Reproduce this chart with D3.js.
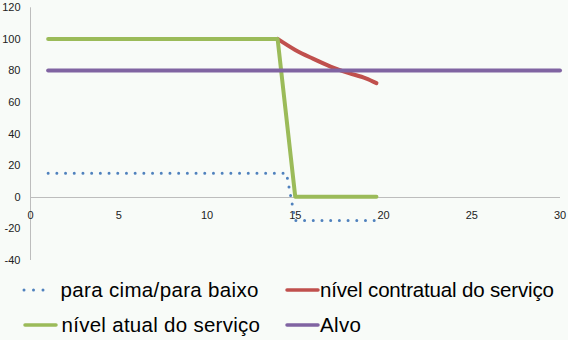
<!DOCTYPE html>
<html>
<head>
<meta charset="utf-8">
<script src="https://cdn.jsdelivr.net/npm/d3@7"></script>
<style>
  body { margin: 0; background: #f8fbf8; }
  svg { display: block; }
  .tick-label { font-family: "Liberation Sans", Arial, sans-serif; font-size: 11px; fill: #222; }
  .legend-label { font-family: "Liberation Sans", Arial, sans-serif; font-size: 20.5px; fill: #000; }
</style>
</head>
<body>
<script>
// series data
var xUpDown = [1, 14.5, 15, 19.6];
var upDown = [15, 15, -15, -15];
var xContract = [14, 15, 16, 17, 18, 19, 19.6];
var contract = [100, 93, 87.5, 82.5, 78.5, 75, 72];
var xActual = [1, 14, 15, 19.6];
var actual = [100, 100, 0, 0];
var xTarget = [1, 30];
var target = [80, 80];

var xTicks = [0, 5, 10, 15, 20, 25, 30];
var yTicks = [-40, -20, 0, 20, 40, 60, 80, 100, 120];

var names = ["para cima/para baixo", "nível contratual do serviço", "nível atual do serviço", "Alvo"];
var colors = ["#4f81bd", "#c0504d", "#9bbb59", "#8064a2"];

var width = 568, height = 340;

var svg = d3.select("body").append("svg")
    .attr("width", width)
    .attr("height", height);

var x = d3.scaleLinear().domain([0, 30]).range([30.5, 560]);
var y = d3.scaleLinear().domain([-40, 120]).range([260, 7.3]);

//axis lines
svg.append("line")
    .attr("x1", x(0)).attr("x2", x(0))
    .attr("y1", y(120)).attr("y2", y(-40))
    .attr("stroke", "#bdbdbd").attr("stroke-width", 1);
svg.append("line")
    .attr("x1", x(0)).attr("x2", x(30))
    .attr("y1", Math.round(y(0)) + 0.5).attr("y2", Math.round(y(0)) + 0.5)
    .attr("stroke", "#bdbdbd").attr("stroke-width", 1);

//tick labels
svg.selectAll(".ylab")
    .data(yTicks)
    .enter()
    .append("text")
    .attr("class", "tick-label")
    .attr("x", 20.5)
    .attr("y", function(d){ return y(d); })
    .attr("dy", "0.35em")
    .attr("text-anchor", "end")
    .text(function(d){ return d; });

svg.selectAll(".xlab")
    .data(xTicks)
    .enter()
    .append("text")
    .attr("class", "tick-label")
    .attr("x", function(d){ return x(d); })
    .attr("y", 219)
    .attr("text-anchor", "middle")
    .text(function(d){ return d; });

function zip(xs, ys){
    return xs.map(function(v, i){ return [v, ys[i]]; });
}

var line = d3.line()
    .x(function(d){ return x(d[0]); })
    .y(function(d){ return y(d[1]); });

//blue dotted
svg.append("path")
    .datum(zip(xUpDown, upDown))
    .attr("d", line)
    .attr("fill", "none")
    .attr("stroke", colors[0])
    .attr("stroke-width", 3)
    .attr("stroke-linecap", "round")
    .attr("stroke-dasharray", "0,8.7");

//red smooth curve
svg.append("path")
    .datum(zip(xContract, contract))
    .attr("d", line.curve(d3.curveMonotoneX))
    .attr("fill", "none")
    .attr("stroke", colors[1])
    .attr("stroke-width", 4)
    .attr("stroke-linecap", "round");
line.curve(d3.curveLinear);

//green
svg.append("path")
    .datum(zip(xActual, actual))
    .attr("d", line)
    .attr("fill", "none")
    .attr("stroke", colors[2])
    .attr("stroke-width", 4)
    .attr("stroke-linecap", "round")
    .attr("stroke-linejoin", "round");

//purple
svg.append("path")
    .datum(zip(xTarget, target))
    .attr("d", line)
    .attr("fill", "none")
    .attr("stroke", colors[3])
    .attr("stroke-width", 4)
    .attr("stroke-linecap", "round");

//legend
var legendPos = [
    {x1: 24, x2: 52.5, tx: 60.5, y: 290, w: 198},
    {x1: 287, x2: 318, tx: 320, y: 290, w: 234},
    {x1: 25, x2: 56, tx: 61.5, y: 325, w: 198.5},
    {x1: 287, x2: 318, tx: 320, y: 325, w: 41}
];

var legend = svg.selectAll(".legend")
    .data(names)
    .enter()
    .append("g")
    .attr("class", "legend");

legend.append("line")
    .attr("x1", function(d, i){ return legendPos[i].x1; })
    .attr("x2", function(d, i){ return legendPos[i].x2; })
    .attr("y1", function(d, i){ return legendPos[i].y; })
    .attr("y2", function(d, i){ return legendPos[i].y; })
    .attr("stroke", function(d, i){ return colors[i]; })
    .attr("stroke-width", function(d, i){ return i == 0 ? 3 : 3.5; })
    .attr("stroke-linecap", "round")
    .attr("stroke-dasharray", function(d, i){ return i == 0 ? "0,9.5" : null; });

legend.append("text")
    .attr("class", "legend-label")
    .attr("x", function(d, i){ return legendPos[i].tx; })
    .attr("y", function(d, i){ return legendPos[i].y; })
    .attr("dy", "0.35em")
    .attr("textLength", function(d, i){ return legendPos[i].w; })
    .attr("lengthAdjust", "spacing")
    .text(function(d){ return d; });
</script>
</body>
</html>
